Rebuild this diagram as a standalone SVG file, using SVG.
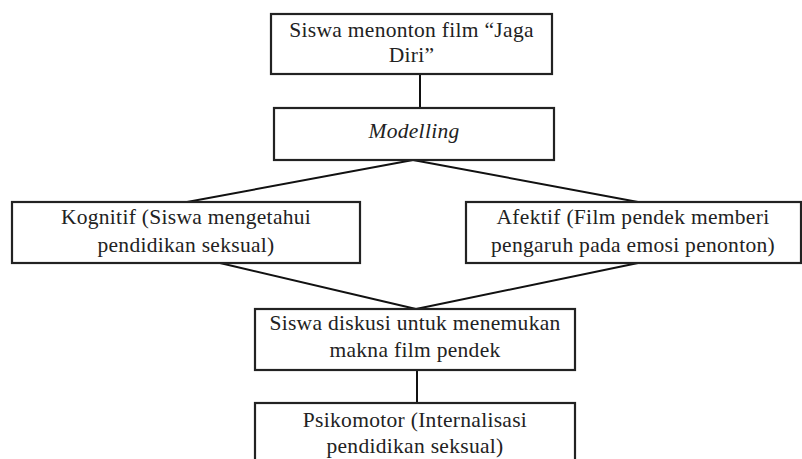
<svg xmlns="http://www.w3.org/2000/svg" width="802" height="459" viewBox="0 0 802 459">
<style>
.box{fill:#fff;stroke:#222;stroke-width:2.2}
.t{font-family:"Liberation Serif","Times New Roman",serif;font-size:21.5px;letter-spacing:0.3px;fill:#222;text-anchor:middle}
.c{stroke:#111;stroke-width:2;fill:none}
</style>
<rect width="802" height="459" fill="#fff"/>
<g id="connectors">
<line class="c" x1="420" y1="74" x2="420" y2="108"/>
<line class="c" x1="413" y1="160" x2="187" y2="202"/>
<line class="c" x1="413" y1="160" x2="638" y2="202"/>
<line class="c" x1="220" y1="263" x2="416" y2="309"/>
<line class="c" x1="638" y1="263" x2="416" y2="309"/>
<line class="c" x1="417" y1="370" x2="417" y2="403"/>
</g>
<g id="n1"><rect class="box" x="271" y="14" width="281" height="60"/>
<text class="t" x="411.5" y="37">Siswa menonton film “Jaga</text>
<text class="t" x="411.5" y="62">Diri”</text></g>
<g id="n2"><rect class="box" x="274" y="108" width="280" height="52"/>
<text class="t" x="414" y="138" font-style="italic">Modelling</text></g>
<g id="n3"><rect class="box" x="12" y="202" width="348" height="61"/>
<text class="t" x="186" y="224">Kognitif (Siswa mengetahui</text>
<text class="t" x="186" y="252">pendidikan seksual)</text></g>
<g id="n4"><rect class="box" x="466" y="202" width="335" height="61"/>
<text class="t" x="633" y="224">Afektif (Film pendek memberi</text>
<text class="t" x="633" y="252">pengaruh pada emosi penonton)</text></g>
<g id="n5"><rect class="box" x="255" y="309" width="320" height="61"/>
<text class="t" x="415" y="330">Siswa diskusi untuk menemukan</text>
<text class="t" x="415" y="357">makna film pendek</text></g>
<g id="n6"><rect class="box" x="255" y="403" width="320" height="70"/>
<text class="t" x="415" y="427">Psikomotor (Internalisasi</text>
<text class="t" x="415" y="453">pendidikan seksual)</text></g>
</svg>
